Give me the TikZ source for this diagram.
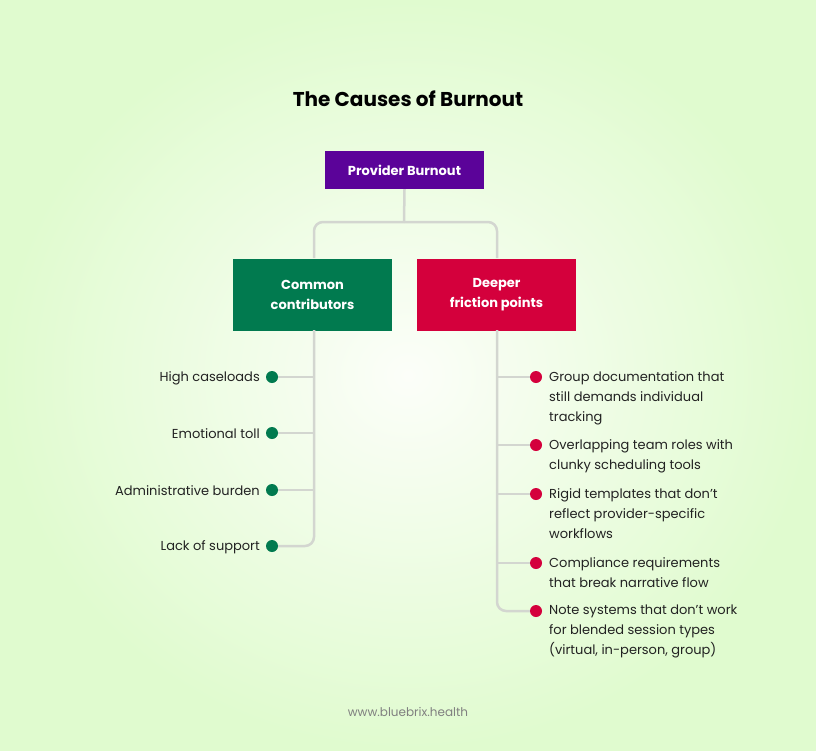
\documentclass[tikz,border=0pt]{standalone}
\usepackage{fontspec}
\setmainfont{Poppins}
\definecolor{bgin}{HTML}{FCFEF9}
\definecolor{bgout}{HTML}{E0FBCF}
\definecolor{purp}{HTML}{5B0399}
\definecolor{grn}{HTML}{017A4F}
\definecolor{redc}{HTML}{D4003C}
\definecolor{ln}{HTML}{D3D6D0}
\definecolor{txt}{HTML}{222222}
\begin{document}
\begin{tikzpicture}[x=1pt,y=-1pt,
  box/.style={draw=none,text=white,font=\fontsize{13}{20}\selectfont\bfseries,align=center,inner sep=0},
  conn/.style={draw=ln,line width=2.5pt,rounded corners=9pt},
  gdot/.style={circle,fill=grn,minimum size=12pt,inner sep=0},
  rdot/.style={circle,fill=redc,minimum size=12pt,inner sep=0},
  ltxt/.style={font=\fontsize{13}{20}\selectfont,text=txt,anchor=east,inner sep=0},
  rtxt/.style={font=\fontsize{13}{20}\selectfont,text=txt,anchor=north west,align=left,inner sep=0}]
\shade[inner color=bgin,outer color=bgout] (0,0) rectangle (816,750);
\useasboundingbox (0,0) rectangle (816,750);
\node[font=\fontsize{20}{24}\selectfont\bfseries,text=black] (title) at (408,99) {The Causes of Burnout};
\node[box,fill=purp,minimum width=159pt,minimum height=38pt] (pb) at (404.5,170) {Provider Burnout};
\node[box,fill=grn,minimum width=159pt,minimum height=72pt] (cc) at (312.5,295) {Common\\contributors};
\node[box,fill=redc,minimum width=159pt,minimum height=72pt] (df) at (496.5,295) {Deeper\\friction points};
\coordinate (j) at (404,222);
\draw[conn] (pb.south) -- (j);
\draw[conn] (j) -| (314,258);
\draw[conn] (j) -| (497,258);
% left
\foreach \y/\t/\n in {377/High caseloads/l1,433/Emotional toll/l2,490/Administrative burden/l3,546/Lack of support/l4}{
  \node[gdot] (\n) at (272,\y) {};
  \node[ltxt] at (260,\y+1) {\t};
}
\draw[conn] (314,330) |- (l4);
\foreach \n in {l1,l2,l3}{\draw[conn] (\n) -- (\n -| 314,0);}
% right
\foreach \y/\n in {377/r1,445/r2,494/r3,563/r4,611/r5}{\node[rdot] (\n) at (536,\y) {};}
\draw[conn] (497,330) |- (r5);
\foreach \n in {r1,r2,r3,r4}{\draw[conn] (\n) -- (\n -| 497,0);}
\node[rtxt] at (549,371) {Group documentation that\\still demands individual\\tracking};
\node[rtxt] at (549,439) {Overlapping team roles with\\clunky scheduling tools};
\node[rtxt] at (549,488) {Rigid templates that don’t\\reflect provider-specific\\workflows};
\node[rtxt] at (549,557) {Compliance requirements\\that break narrative flow};
\node[rtxt] at (549,605) {Note systems that don’t work\\for blended session types\\(virtual, in-person, group)};
\node[font=\fontsize{12}{14}\selectfont,text=gray] (ft) at (408,712) {www.bluebrix.health};
\end{tikzpicture}
\end{document}
